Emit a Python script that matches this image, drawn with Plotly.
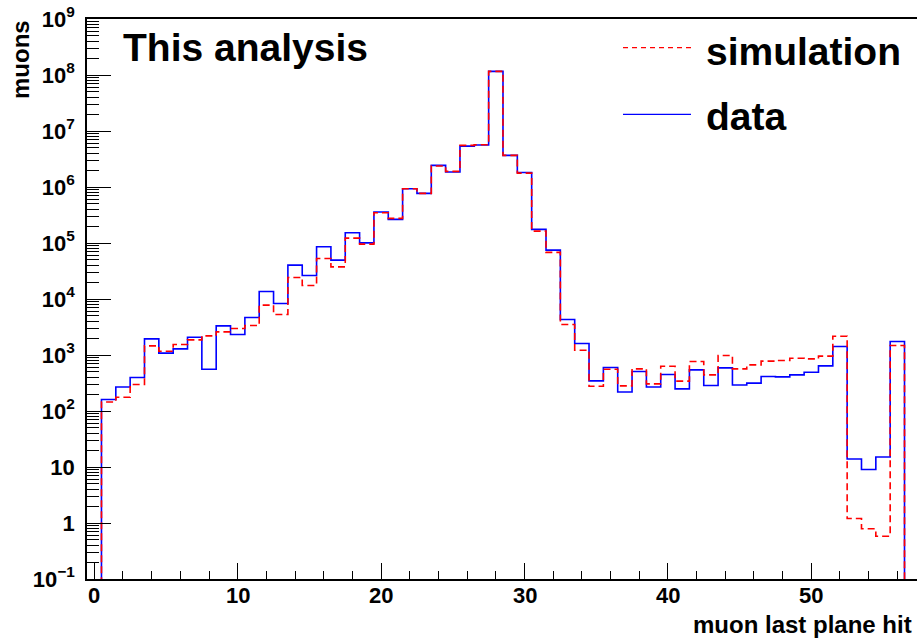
import plotly.graph_objects as go

# ---- data (bin = muon last plane hit, 0..57) ----
planes = list(range(58))
data_counts = [
    0, 160, 269, 397, 1940, 1078, 1286, 2080, 558, 3311,
    2325, 4680, 13650, 8320, 40270, 26360, 85500, 49430, 152000, 100700,
    358000, 263700, 929000, 769000, 2.43e6, 1.85e6, 5.38e6, 5.61e6, 1.16e8, 3.67e6,
    1.82e6, 175000, 74600, 4310, 1607, 345, 598, 219, 508, 269,
    449, 248, 542, 285, 589, 292, 314, 413, 406, 441,
    493, 640, 1419, 13.9, 9.0, 15.1, 1743, 0,
]
sim_counts = [
    0, 145, 176, 297, 1455, 1170, 1542, 1862, 2197, 2588,
    2979, 3367, 7770, 5300, 24270, 17470, 53000, 37500, 122200, 95500,
    346000, 275000, 929000, 769000, 2.37e6, 1.90e6, 5.54e6, 5.68e6, 1.16e8, 3.67e6,
    1.77e6, 163000, 67900, 3510, 1219, 277, 558, 281, 565, 305,
    631, 341, 766, 441, 980, 565, 666, 776, 798, 877,
    853, 953, 2168, 1.2, 0.79, 0.58, 1479, 0,
]
y_tick_vals = [0.1, 1, 10, 1e2, 1e3, 1e4, 1e5, 1e6, 1e7, 1e8, 1e9]
y_tick_text = ["10<sup>\u22121</sup>", "1", "10", "10<sup>2</sup>", "10<sup>3</sup>",
               "10<sup>4</sup>", "10<sup>5</sup>", "10<sup>6</sup>", "10<sup>7</sup>",
               "10<sup>8</sup>", "10<sup>9</sup>"]
x_tick_vals = [0, 10, 20, 30, 40, 50]
x_tick_text = ["0", "10", "20", "30", "40", "50"]
series_names = ["simulation", "data"]

# ---- helpers ----
W, H = 917, 639
ML, MR, MT, MB = 87, 0, 19, 60
PW, PH = W - ML - MR, H - MT - MB
FLOOR = 1e-3  # empty bins are drawn below the visible range (as ROOT does on log scale)


def px_x(p):
    return (p - ML) / PW


def px_y(p):
    return 1 - (p - MT) / PH


def step(counts):
    edges = [p - 0.5 for p in planes] + [planes[-1] + 0.5]
    vals = [c if c > 0 else FLOOR for c in counts]
    return edges, vals + [vals[-1]]


FONT = "Liberation Sans, Arial, Helvetica, sans-serif"

fig = go.Figure()
xd, yd = step(data_counts)
fig.add_trace(go.Scatter(x=xd, y=yd, mode="lines", line_shape="hv", name="data",
                         line=dict(color="#0000ff", width=1.6)))
xs, ys = step(sim_counts)
fig.add_trace(go.Scatter(x=xs, y=ys, mode="lines", line_shape="hv", name="simulation",
                         line=dict(color="#ff0000", width=1.6, dash="7px,4px")))

minor_y = [k * 10 ** n for n in range(-1, 9) for k in range(2, 10)]

fig.update_layout(
    width=W, height=H,
    margin=dict(l=ML, r=MR, t=MT, b=MB, pad=0),
    paper_bgcolor="white", plot_bgcolor="white",
    showlegend=False,
    font=dict(family=FONT, color="black"),
    xaxis=dict(
        range=[(ML - 94.3) / 14.34, (W - 94.3) / 14.34],
        tickmode="array", tickvals=x_tick_vals, showticklabels=False,
        ticks="inside", ticklen=16, tickwidth=1.2, tickcolor="black",
        minor=dict(ticks="inside", ticklen=8, tick0=0, dtick=2, tickcolor="black", tickwidth=1.2),
        showline=True, linecolor="black", linewidth=1.6, mirror=True,
        showgrid=False, zeroline=False,
    ),
    yaxis=dict(
        type="log", range=[-1, 9],
        tickmode="array", tickvals=y_tick_vals, ticktext=y_tick_text,
        ticks="inside", ticklen=24, tickwidth=1.2, tickcolor="black",
        tickfont=dict(size=22, family=FONT, weight="bold", color="black"),
        ticklabelstandoff=6,
        minor=dict(ticks="inside", ticklen=12, tickvals=minor_y, tickcolor="black", tickwidth=1),
        showline=True, linecolor="black", linewidth=1.6, mirror=False,
        showgrid=False, zeroline=False,
    ),
)

annotations = [
    dict(text="<b>%s</b>" % t, x=v, y=px_y(595), xref="x", yref="paper",
         xanchor="center", yanchor="middle", showarrow=False, font=dict(size=22, family=FONT))
    for v, t in zip(x_tick_vals, x_tick_text)
]
annotations += [
    dict(text="<b>This analysis</b>", x=px_x(121), y=px_y(47), xref="paper", yref="paper",
         xanchor="left", yanchor="middle", showarrow=False, font=dict(size=39, family=FONT)),
    dict(text="<b>muons</b>", x=px_x(20.5), y=px_y(18), xref="paper", yref="paper",
         xanchor="center", yanchor="top", textangle=-90, showarrow=False,
         font=dict(size=24, family=FONT)),
    dict(text="<b>muon last plane hit</b>", x=px_x(914), y=px_y(624), xref="paper", yref="paper",
         xanchor="right", yanchor="middle", showarrow=False, font=dict(size=24, family=FONT)),
    dict(text="<b>%s</b>" % series_names[0], x=px_x(704), y=px_y(51), xref="paper", yref="paper",
         xanchor="left", yanchor="middle", showarrow=False, font=dict(size=39, family=FONT)),
    dict(text="<b>%s</b>" % series_names[1], x=px_x(704), y=px_y(116), xref="paper", yref="paper",
         xanchor="left", yanchor="middle", showarrow=False, font=dict(size=39, family=FONT)),
]
fig.update_layout(annotations=annotations)

fig.add_shape(type="line", xref="paper", yref="paper", x0=px_x(623), x1=px_x(691),
              y0=px_y(47.7), y1=px_y(47.7), line=dict(color="#ff0000", width=1.2, dash="5px,4px"))
fig.add_shape(type="line", xref="paper", yref="paper", x0=px_x(623), x1=px_x(691),
              y0=px_y(114.3), y1=px_y(114.3), line=dict(color="#0000ff", width=1.2))

fig.write_html("out.html", config={"displayModeBar": False},
               post_script="document.body.style.margin='0';document.body.style.overflow='hidden';")
